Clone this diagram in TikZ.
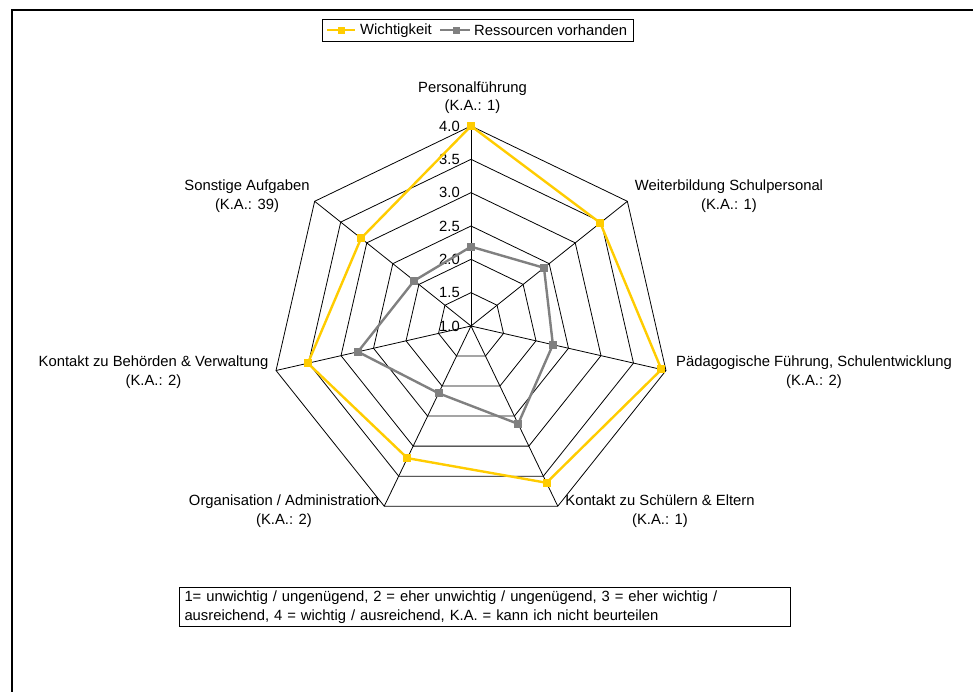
\documentclass[tikz,border=0pt]{standalone}
\usepackage{fontspec}
\setmainfont{Liberation Sans}
\definecolor{wicht}{RGB}{255,204,0}
\definecolor{ress}{RGB}{128,128,128}
\begin{document}
\begin{tikzpicture}[x=1pt,y=-1pt,
  every node/.style={font=\fontsize{14.8}{18.4}\selectfont},
  grid/.style={line width=0.8pt},
  lab/.style={align=center,inner sep=0pt},
  wline/.style={draw=wicht,line width=2.4pt},
  rline/.style={draw=ress,line width=2.4pt},
  wmark/.style={fill=wicht,minimum size=8pt,inner sep=0pt},
  rmark/.style={fill=ress,minimum size=8pt,inner sep=0pt}]
\useasboundingbox (0,0) rectangle (973,692);
\draw[line width=2pt] (12,692) -- (12,10) -- (973,10);

% Netz
\coordinate (m) at (471,326);
\foreach \k in {0,...,6}
  \coordinate (e\k) at ({471+200*cos(90-\k*360/7)},{326-200*sin(90-\k*360/7)});
\foreach \k in {0,...,6}
  \draw[grid] (m) -- (e\k);
\foreach \v in {1.5,2.0,2.5,3.0,3.5,4.0} {
  \pgfmathsetmacro\r{(\v-1)*200/3}
  \draw[grid] (471,{326-\r}) \foreach \k in {1,...,6} { -- ({471+\r*cos(90-\k*360/7)},{326-\r*sin(90-\k*360/7)}) } -- cycle;
}
\foreach \v [count=\i] in {1.0,1.5,2.0,2.5,3.0,3.5,4.0}
  \node (t\i) [anchor=east,inner sep=0pt] at (460,{326-(\v-1)*200/3}) {\v};

% Reihen
\foreach \w [count=\k from 0] in {4.0,3.48,3.93,3.61,3.20,3.51,3.11}
  \coordinate (w\k) at ({471+(\w-1)*200/3*cos(90-\k*360/7)},{326-(\w-1)*200/3*sin(90-\k*360/7)});
\foreach \w [count=\k from 0] in {2.19,2.40,2.26,2.63,2.12,2.74,2.09}
  \coordinate (r\k) at ({471+(\w-1)*200/3*cos(90-\k*360/7)},{326-(\w-1)*200/3*sin(90-\k*360/7)});
\draw[wline] (w0) -- (w1) -- (w2) -- (w3) -- (w4) -- (w5) -- (w6) -- cycle;
\foreach \k in {0,...,6}
  \node (wm\k) [wmark] at (w\k) {};
\draw[rline] (r0) -- (r1) -- (r2) -- (r3) -- (r4) -- (r5) -- (r6) -- cycle;
\foreach \k in {0,...,6}
  \node (rm\k) [rmark] at (r\k) {};

% Achsen
\node (pf) [lab] at (472.5,97.5) {Personalführung\\(K.A.: 1)};
\node (wb) [lab] at (729,196) {Weiterbildung Schulpersonal\\(K.A.: 1)};
\node (pa) [lab] at (814,372) {Pädagogische Führung, Schulentwicklung\\(K.A.: 2)};
\node (ks) [lab] at (660,511) {Kontakt zu Schülern \& Eltern\\(K.A.: 1)};
\node (oa) [lab] at (284,511) {Organisation / Administration\\(K.A.: 2)};
\node (kb) [lab] at (153.5,372) {Kontakt zu Behörden \& Verwaltung\\(K.A.: 2)};
\node (sa) [lab] at (247,196) {Sonstige Aufgaben\\(K.A.: 39)};

% Legende
\node (leg) [draw,line width=0.8pt,minimum width=310.6pt,minimum height=22.7pt,inner sep=0pt] at (478,30.4) {};
\coordinate (lw1) at (327,30.4);
\coordinate (lw2) at (355,30.4);
\coordinate (lr1) at (440,30.4);
\coordinate (lr2) at (470,30.4);
\draw[wline,line width=2pt] (lw1) -- (lw2);
\node (lwm) [wmark,minimum size=7pt] at (341,30.4) {};
\node (lwt) [anchor=west,inner sep=0pt] at (360,30.4) {Wichtigkeit};
\draw[rline,line width=2pt] (lr1) -- (lr2);
\node (lrm) [rmark,minimum size=7pt] at (456,30.4) {};
\node (lrt) [anchor=west,inner sep=0pt] at (474,30.4) {Ressourcen vorhanden};

% Fussnote
\node (note) [draw,line width=0.8pt,text width=600pt,align=left,inner xsep=5.5pt,minimum height=38pt] at (484.5,607) {1= unwichtig / ungenügend, 2 = eher unwichtig / ungenügend, 3 = eher wichtig /\\ausreichend, 4 = wichtig / ausreichend, K.A. = kann ich nicht beurteilen};
\end{tikzpicture}
\end{document}
